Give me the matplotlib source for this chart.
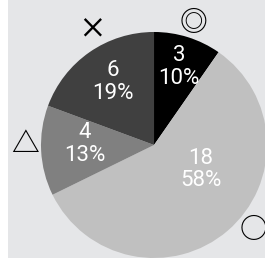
import matplotlib
matplotlib.use("Agg")
import matplotlib.pyplot as plt

# data
symbols = ["◎", "○", "△", "×"]
counts = [3, 18, 4, 6]
colors = ["#000000", "#c0c0c0", "#808080", "#404040"]

# label placement (data units, pie radius = 1)
symbol_pos = [(0.345, 1.088), (0.876, -0.752), (-1.142, 0.009), (-0.549, 1.018)]
value_pos = [(0.220, 0.690), (0.416, -0.217), (-0.611, 0.009), (-0.363, 0.560)]

total = sum(counts)

fig = plt.figure(figsize=(2.65, 2.59), dpi=100, facecolor="white")
ax = fig.add_axes([8 / 265, 1 / 259, 257 / 265, 258 / 259])

ax.pie(counts, colors=colors, startangle=90, counterclock=False, radius=1)

for (x, y), n in zip(value_pos, counts):
    ax.text(x, y, "%d\n%d%%" % (n, round(100 * n / total)), color="white",
            fontsize=16, family="Roboto", ha="center", va="center",
            linespacing=1.1)

for (x, y), s in zip(symbol_pos, symbols):
    ax.text(x, y, s, fontsize=20, family=["Noto Sans CJK JP", "DejaVu Sans"],
            ha="center", va="center", color="black", fontweight="medium")

ax.set_frame_on(True)
for sp in ax.spines.values():
    sp.set_visible(False)
ax.set_facecolor("#e5e6e8")
ax.set_aspect("auto")
ax.set_xlim(-1.292, 0.982)
ax.set_ylim(-1.0, 1.283)
ax.set_xticks([])
ax.set_yticks([])

fig.savefig("out.png", dpi=100, facecolor="white")
